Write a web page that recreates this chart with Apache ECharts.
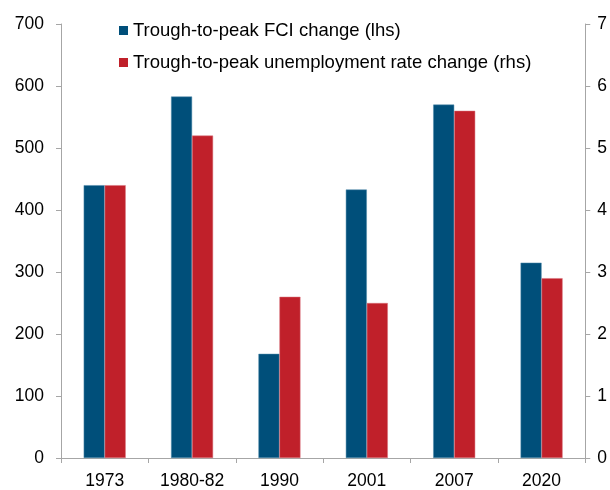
<!DOCTYPE html>
<html>
<head>
<meta charset="utf-8">
<script src="https://cdn.jsdelivr.net/npm/echarts@6/dist/echarts.min.js"></script>
<style>
  html, body { margin: 0; padding: 0; background: #fff; }
  #chart { width: 610px; height: 490px; }
</style>
</head>
<body>
<div id="chart"></div>
<script>
var periods = ['1973', '1980-82', '1990', '2001', '2007', '2020'];
var fciChange = [440, 583, 168, 433, 570, 315];
var unempChange = [4.4, 5.2, 2.6, 2.5, 5.6, 2.9];
var seriesNames = ['Trough-to-peak FCI change (lhs)', 'Trough-to-peak unemployment rate change (rhs)'];

var font = 'Liberation Sans, Arial, sans-serif';
var axisGrey = '#a6a6a6';

var chart = echarts.init(document.getElementById('chart'));

// shared look for the two value axes
function valueAxis(max, pos, margin) {
  return {
    type: 'value',
    position: pos,
    min: 0,
    max: max,
    interval: max / 7,
    splitLine: { show: false },
    axisLine: { show: true, lineStyle: { color: axisGrey, width: 1 } },
    axisTick: { show: true, length: 5, lineStyle: { color: axisGrey } },
    axisLabel: { color: '#000', fontSize: 17.5, fontFamily: font, margin: margin }
  };
}

var option = {
  animation: false,
  grid: { left: 61, right: 23, top: 24, bottom: 30, containLabel: false },
  legend: {
    orient: 'vertical',
    left: 114,
    top: 16,
    itemGap: 13,
    itemWidth: 9,
    itemHeight: 9,
    icon: 'rect',
    itemStyle: { borderWidth: 0 },
    textStyle: { color: '#000', fontSize: 18.5, fontFamily: font },
    data: seriesNames
  },
  xAxis: {
    type: 'category',
    data: periods,
    axisLine: { lineStyle: { color: axisGrey } },
    axisTick: { show: true, length: 5, lineStyle: { color: axisGrey } },
    axisLabel: { color: '#000', fontSize: 17.5, fontFamily: font, margin: 14 }
  },
  yAxis: [valueAxis(700, 'left', 17), valueAxis(7, 'right', 12)],
  series: [
    {
      name: seriesNames[0],
      type: 'bar',
      yAxisIndex: 0,
      data: fciChange,
      barWidth: 21,
      barGap: '0%',
      itemStyle: { color: '#004f7a', borderColor: '#4f8aaa', borderWidth: 0.5 }
    },
    {
      name: seriesNames[1],
      type: 'bar',
      yAxisIndex: 1,
      data: unempChange,
      barWidth: 21,
      barGap: '0%',
      itemStyle: { color: '#c0202a', borderColor: '#d9707a', borderWidth: 0.5 }
    }
  ]
};

chart.setOption(option);
</script>
</body>
</html>
